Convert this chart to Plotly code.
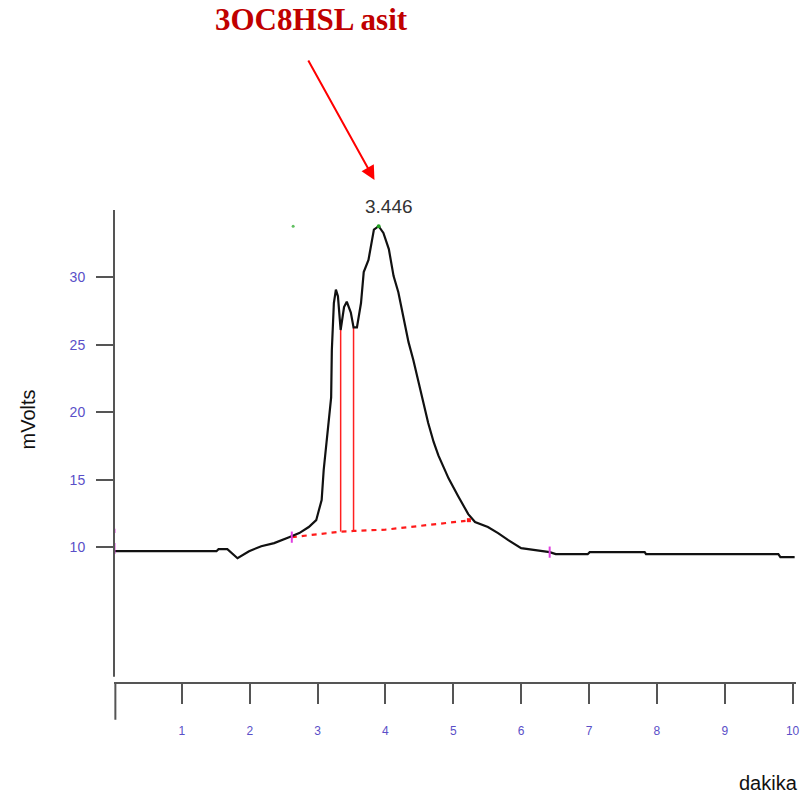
import plotly.graph_objects as go

# Chromatogram trace: retention time (min) vs detector signal (mV)
time_min = [0.00, 1.51, 1.54, 1.67, 1.82, 1.99, 2.17, 2.36, 2.58, 2.73, 2.87, 2.98,
            3.02, 3.06, 3.09, 3.12, 3.17, 3.20, 3.21, 3.24, 3.27, 3.30, 3.34, 3.39,
            3.43, 3.49, 3.53, 3.58, 3.64, 3.68, 3.75, 3.83, 3.90, 3.97, 4.05, 4.12,
            4.19, 4.27, 4.34, 4.41, 4.49, 4.56, 4.63, 4.71, 4.78, 4.86, 4.93, 5.07, 5.22,
            5.32, 5.51, 5.66, 5.81, 6.00, 6.25, 6.42, 6.51, 6.98, 7.01, 7.82, 7.84,
            9.79, 9.82, 10.03]
signal_mv = [9.70, 9.70, 9.85, 9.85, 9.18, 9.70, 10.07, 10.30, 10.74, 11.04, 11.49, 12.00,
             12.75, 13.49, 15.72, 17.06, 19.40, 21.10, 24.60, 28.10, 29.10, 28.60, 26.10, 27.80,
             28.20, 27.40, 26.30, 26.30, 28.10, 30.40, 31.30, 33.55, 33.80, 33.30, 32.10, 30.10,
             28.90, 26.90, 25.20, 23.90, 22.20, 20.70, 19.20, 17.80, 16.80, 15.90, 15.10, 13.80, 12.45,
             11.86, 11.49, 11.04, 10.52, 9.93, 9.78, 9.63, 9.48, 9.48, 9.63, 9.63, 9.48,
             9.48, 9.26, 9.26]

# Integration baseline under the peak cluster
base_x = [2.62, 3.00, 3.34, 3.53, 4.00, 4.19, 4.60, 5.18]
base_y = [10.74, 10.98, 11.15, 11.20, 11.30, 11.40, 11.65, 11.95]

# Peak-split drop lines (time, top of the line)
drop_x = [3.34, 3.53]
drop_top = [26.10, 26.30]
drop_base = [11.15, 11.20]

# Peak apex and its retention time label
apex_x = 3.90
apex_y = 33.80
apex_label = "3.446"

# Integration start / end markers
event_x = [2.62, 6.42]
event_y = [10.74, 9.63]

x_ticks = [1, 2, 3, 4, 5, 6, 7, 8, 9, 10]
y_ticks = [10, 15, 20, 25, 30]

title_text = "3OC8HSL asit"
x_title = "dakika"
y_title = "mVolts"

axis_grey = "#555555"
tick_blue = "#5a4fc8"

fig = go.Figure()

# Dashed integration baseline
fig.add_trace(go.Scatter(
    x=base_x, y=base_y, mode="lines",
    line=dict(color="#ff1a1a", width=2.2, dash="5px,5px"),
    hoverinfo="skip", showlegend=False))

# Drop lines
dx, dy = [], []
for xv, yt, yb in zip(drop_x, drop_top, drop_base):
    dx += [xv, xv, None]
    dy += [yb, yt, None]
fig.add_trace(go.Scatter(
    x=dx, y=dy, mode="lines",
    line=dict(color="#ff2020", width=1.5),
    hoverinfo="skip", showlegend=False))

# Signal
fig.add_trace(go.Scatter(
    x=time_min, y=signal_mv, mode="lines",
    line=dict(color="#111111", width=2.2),
    showlegend=False))

# Event markers
fig.add_trace(go.Scatter(
    x=event_x, y=event_y, mode="markers",
    marker=dict(symbol="line-ns", size=8, line=dict(color="#e040e0", width=2)),
    hoverinfo="skip", showlegend=False))
fig.add_trace(go.Scatter(
    x=[base_x[-1] + 0.05], y=[base_y[-1] + 0.05], mode="markers",
    marker=dict(symbol="square", size=4, color="#ff1a1a"),
    hoverinfo="skip", showlegend=False))
fig.add_trace(go.Scatter(
    x=[apex_x], y=[apex_y], mode="markers",
    marker=dict(size=4, color="#20a020"),
    hoverinfo="skip", showlegend=False))
fig.add_trace(go.Scatter(
    x=[2.64], y=[33.8], mode="markers",
    marker=dict(size=3, color="#60c060"),
    hoverinfo="skip", showlegend=False))
fig.add_trace(go.Scatter(
    x=[0.01, 0.01], y=[9.9, 11.2], mode="markers",
    marker=dict(symbol="line-ns", size=[8, 3], line=dict(color="#e040e0", width=2)),
    hoverinfo="skip", showlegend=False))

fig.update_layout(
    width=811, height=800,
    margin=dict(l=114, r=11, t=210, b=118),
    paper_bgcolor="white", plot_bgcolor="white",
    font=dict(family="Liberation Sans, Arial, sans-serif"),
    xaxis=dict(
        range=[0, 10.05], tickvals=x_ticks, ticktext=[str(v) for v in x_ticks],
        showgrid=False, zeroline=False,
        showline=True, linecolor=axis_grey, linewidth=2,
        ticks="outside", ticklen=20, tickwidth=2, tickcolor=axis_grey,
        ticklabelstandoff=17,
        tickfont=dict(family="Liberation Sans Narrow, Liberation Sans, Arial", size=12, color=tick_blue),
    ),
    yaxis=dict(
        range=[0, 35], tickvals=y_ticks, ticktext=[str(v) for v in y_ticks],
        showgrid=False, zeroline=False, showline=False,
        ticks="outside", ticklen=17, tickwidth=2, tickcolor=axis_grey,
        ticklabelstandoff=8,
        tickfont=dict(family="Liberation Sans Narrow, Liberation Sans, Arial", size=14, color=tick_blue),
    ),
    shapes=[
        # vertical value axis
        dict(type="line", xref="paper", yref="paper", x0=0, x1=0, y0=0.011, y1=1.0,
             line=dict(color=axis_grey, width=2)),
        # long origin tick on the time axis
        dict(type="line", xref="paper", yref="paper", x0=0.002, x1=0.002, y0=0, y1=-0.08,
             line=dict(color=axis_grey, width=2)),
    ],
    annotations=[
        dict(text=f"<b>{title_text}</b>", xref="paper", yref="paper",
             x=(313 - 114) / 686, y=(682 - 19) / 472, showarrow=False,
             xanchor="center", yanchor="middle",
             font=dict(family="Liberation Serif, Times New Roman, serif", size=31, color="#c00000")),
        dict(text="", xref="paper", yref="paper",
             x=(376 - 114) / 686, y=(682 - 180) / 472,
             ax=-67, ay=-121, showarrow=True,
             arrowhead=2, arrowsize=1.4, arrowwidth=2, arrowcolor="#ff0000"),
        dict(text=apex_label, xref="x", yref="paper",
             x=apex_x + 0.15, y=(682 - 207) / 472, showarrow=False,
             xanchor="center", yanchor="middle",
             font=dict(family="Liberation Sans, Arial", size=19, color="#333333")),
        dict(text=y_title, xref="paper", yref="paper",
             x=(27 - 114) / 686, y=(682 - 420) / 472, showarrow=False, textangle=-90,
             xanchor="center", yanchor="middle",
             font=dict(family="Liberation Sans, Arial", size=20, color="#111111")),
        dict(text=x_title, xref="paper", yref="paper",
             x=(772 - 114) / 686, y=(682 - 783) / 472, showarrow=False,
             xanchor="center", yanchor="middle",
             font=dict(family="Liberation Sans, Arial", size=20, color="#111111")),
    ],
)

fig.write_html("out.html")
